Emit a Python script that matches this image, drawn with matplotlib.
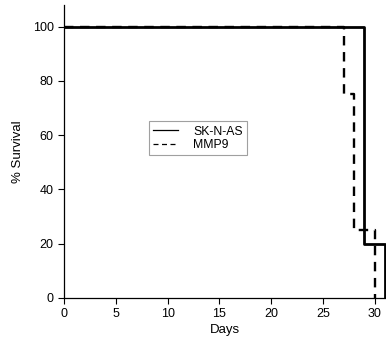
import matplotlib
matplotlib.use("Agg")
import matplotlib.pyplot as plt

plt.rcParams['font.family'] = ['Liberation Sans', 'DejaVu Sans']

# Kaplan-Meier step data
sk_days = [0, 29, 29, 31, 31]
sk_surv = [100, 100, 20, 20, 0]
mmp9_days = [0, 27, 27, 28, 28, 30, 30]
mmp9_surv = [100, 100, 75, 75, 25, 25, 0]

xticks = [0, 5, 10, 15, 20, 25, 30]
yticks = [0, 20, 40, 60, 80, 100]

fig = plt.figure(figsize=(3.86, 3.5), dpi=100)
ax = fig.add_axes([0.166, 0.149, 0.834, 0.837])

ax.plot(mmp9_days, mmp9_surv, color='black', lw=1.7, ls=(0, (4, 2.8)), label='MMP9')
ax.plot(sk_days, sk_surv, color='black', lw=2.0, ls='-', label='SK-N-AS')

ax.set_xlim(0, 31.1)
ax.set_ylim(0, 108)
ax.set_xticks(xticks)
ax.set_yticks(yticks)
ax.tick_params(direction='out', length=4.5, width=0.8, labelsize=9, pad=3)
for s in ['top', 'right']:
    ax.spines[s].set_visible(False)
for s in ['left', 'bottom']:
    ax.spines[s].set_linewidth(0.9)

ax.set_xlabel('Days', fontsize=9.5, labelpad=3)
ax.set_ylabel('% Survival', fontsize=9.5, labelpad=6)

handles, labels = ax.get_legend_handles_labels()
leg = ax.legend(handles[::-1], labels[::-1], loc='upper left',
                bbox_to_anchor=(0.252, 0.615), fontsize=8.8, frameon=True,
                fancybox=False, edgecolor='#888888', handlelength=2.0,
                borderpad=0.35, labelspacing=0.12, handletextpad=1.3,
                borderaxespad=0.3)
for line in leg.get_lines():
    line.set_linewidth(0.9)
leg.get_frame().set_linewidth(0.8)

fig.savefig('out.png', dpi=100)
